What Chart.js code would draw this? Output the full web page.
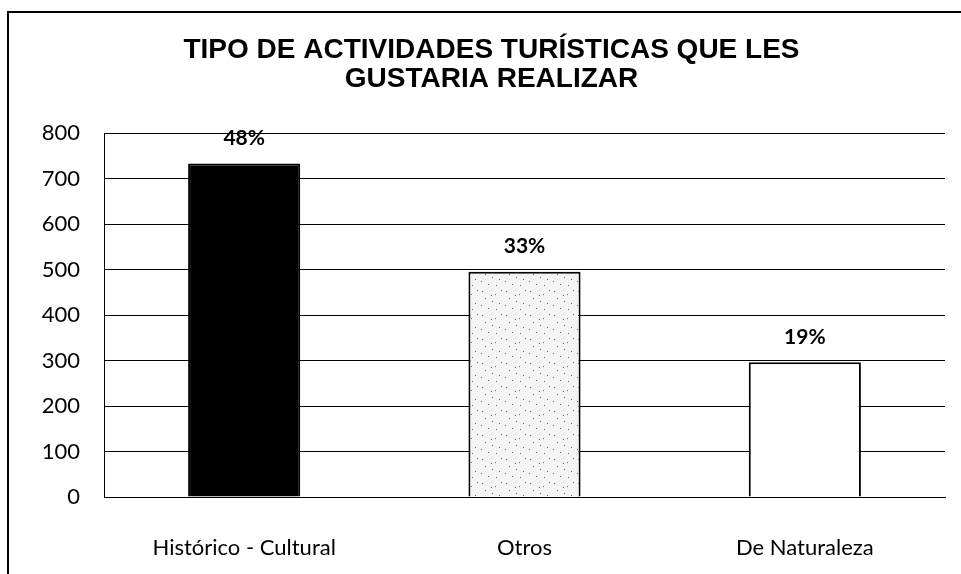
<!DOCTYPE html>
<html>
<head>
<meta charset="utf-8">
<script src="https://cdn.jsdelivr.net/npm/chart.js@4/dist/chart.umd.min.js"></script>
<style>
  html, body { margin: 0; padding: 0; background: #fff; }
  #wrap { width: 961px; height: 574px; }
</style>
</head>
<body>
<div id="wrap"><canvas id="actividades"></canvas></div>
<script>
var categorias = ["Histórico - Cultural", "Otros", "De Naturaleza"];
var valores = [733, 495, 296];
var porcentajes = ["48%", "33%", "19%"];

// stipple pattern for the "Otros" bar
function puntos() {
  var c = document.createElement('canvas');
  c.width = 24; c.height = 24;
  var g = c.getContext('2d');
  g.fillStyle = '#f4f4f4';
  g.fillRect(0, 0, 24, 24);
  g.fillStyle = '#666';
  var pts = [[2,3],[15,6],[21,2],[5,10],[12,13],[19,15],[1,17],[8,20],[16,21],[11,7]];
  pts.forEach(function (p) { g.fillRect(p[0], p[1], 1, 1); });
  return g.createPattern(c, 'repeat');
}

var marco = {
  id: 'marco',
  afterDraw: function (chart) {
    var ctx = chart.ctx;
    ctx.save();
    ctx.strokeStyle = '#000';
    ctx.lineWidth = 2;
    ctx.beginPath();
    ctx.moveTo(8, 574);
    ctx.lineTo(8, 12);
    ctx.lineTo(961, 12);
    ctx.stroke();
    // percentage labels over bars
    var meta = chart.getDatasetMeta(0);
    ctx.fillStyle = '#000';
    ctx.font = 'bold 21px Lato';
    ctx.textAlign = 'center';
    ctx.textBaseline = 'bottom';
    meta.data.forEach(function (bar, i) {
      ctx.fillText(porcentajes[i], bar.x, bar.y - 15);
    });
    ctx.restore();
  }
};

var canvas = document.getElementById('actividades');
var chart = new Chart(canvas, {
  type: 'bar',
  data: {
    labels: categorias,
    datasets: [{
      data: valores,
      backgroundColor: ['#000000', puntos(), '#ffffff'],
      borderColor: '#000',
      borderWidth: 2,
      barPercentage: 0.4,
      categoryPercentage: 1
    }]
  },
  options: {
    responsive: true,
    maintainAspectRatio: false,
    animation: false,
    layout: { padding: { left: 38, right: 16, top: 36, bottom: 12 } },
    plugins: {
      legend: { display: false },
      tooltip: { enabled: false },
      title: {
        display: true,
        text: ['TIPO DE ACTIVIDADES TURÍSTICAS QUE LES', 'GUSTARIA REALIZAR'],
        color: '#000',
        font: { family: 'Liberation Sans', size: 28, weight: 'bold', lineHeight: 1.02 },
        padding: { top: 0, bottom: 40 }
      }
    },
    scales: {
      y: {
        min: 0,
        max: 800,
        ticks: { stepSize: 100, color: '#000', font: { family: 'Lato', size: 22 }, padding: 24 },
        grid: { color: '#000', lineWidth: 1, drawTicks: false },
        border: { color: '#000', width: 1 },
        afterFit: function (scale) { scale.width = 66; }
      },
      x: {
        ticks: { color: '#000', font: { family: 'Lato', size: 22 }, padding: 38 },
        grid: { display: false, drawTicks: false },
        border: { color: '#000', width: 1 },
        afterFit: function (scale) { scale.height = 65; }
      }
    }
  },
  plugins: [marco]
});
</script>
</body>
</html>
